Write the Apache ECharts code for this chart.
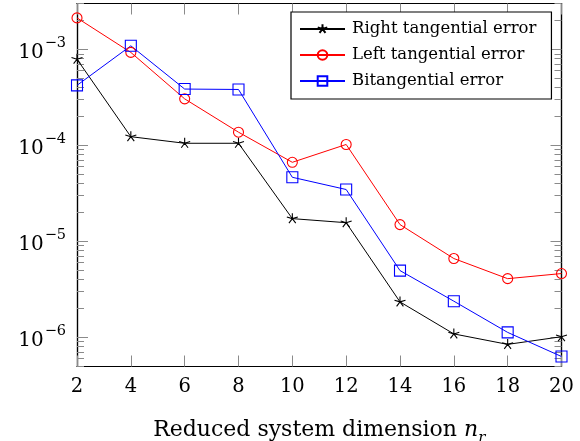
<!DOCTYPE html>
<html>
<head>
<meta charset="utf-8">
<script src="https://cdn.jsdelivr.net/npm/echarts@6/dist/echarts.min.js"></script>
<style>
  html, body { margin: 0; padding: 0; background: #fff; }
  #chart { width: 580px; height: 441px; }
</style>
</head>
<body>
<div id="chart"></div>
<script>
const xValues = [2, 4, 6, 8, 10, 12, 14, 16, 18, 20];
const rightTangential = [7.9e-4, 1.23e-4, 1.05e-4, 1.05e-4, 1.72e-5, 1.56e-5, 2.33e-6, 1.08e-6, 8.4e-7, 1.01e-6];
const leftTangential = [2.13e-3, 9.3e-4, 3.05e-4, 1.37e-4, 6.65e-5, 1.02e-4, 1.49e-5, 6.6e-6, 4.07e-6, 4.6e-6];
const bitangential = [4.22e-4, 1.09e-3, 3.86e-4, 3.82e-4, 4.64e-5, 3.46e-5, 4.94e-6, 2.37e-6, 1.12e-6, 6.28e-7];
const seriesNames = ['Right tangential error', 'Left tangential error', 'Bitangential error'];
const yMin = 4.94e-7;
const yMax = 3.01e-3;
const majorTicks = [1e-6, 1e-5, 1e-4, 1e-3];
const minorTicks = [];
[-7, -6, -5, -4, -3].forEach(e => {
  for (let k = 2; k <= 9; k++) {
    const v = Number((k * Math.pow(10, e)).toPrecision(3));
    if (v > yMin && v < yMax) minorTicks.push(v);
  }
});

const FONT = 'DejaVu Serif';
const pair = arr => xValues.map((x, i) => [x, arr[i]]);
const starPath = 'path://M0,0L0,-1M0,0L0.951,-0.309M0,0L0.588,0.809M0,0L-0.588,0.809M0,0L-0.951,-0.309M0,1';

const tickColor = '#8a8a8a';
const frame = { show: true, lineStyle: { color: '#000', width: 1.2 } };

function logAxis(pos, withLabels, ticks, len) {
  return {
    type: 'log', logBase: 10, min: yMin, max: yMax, position: pos,
    axisLine: frame,
    splitLine: { show: false },
    axisTick: { show: true, inside: true, length: len, customValues: ticks, lineStyle: { color: tickColor, width: 1 } },
    axisLabel: withLabels ? {
      show: true, customValues: majorTicks, margin: 11,
      formatter: v => '{b|10}{e|\u2212' + Math.round(-Math.log10(v)) + '}',
      rich: {
        b: { fontFamily: FONT, fontSize: 20, color: '#000', verticalAlign: 'bottom', padding: [7, 0, 0, 0] },
        e: { fontFamily: FONT, fontSize: 14.5, color: '#000', verticalAlign: 'top', padding: [0, 0, 0, 1] }
      }
    } : { show: false }
  };
}

const chart = echarts.init(document.getElementById('chart'), null, { renderer: 'canvas' });
chart.setOption({
  animation: false,
  backgroundColor: '#fff',
  grid: { left: 77, right: 18.5, top: 3.5, bottom: 74.5, containLabel: false, outerBoundsMode: 'none' },
  legend: {
    orient: 'vertical', left: 291, top: 12,
    padding: [7, 15, 8, 8],
    itemGap: 6, itemWidth: 45, itemHeight: 12,
    backgroundColor: '#fff', borderColor: '#000', borderWidth: 1.2, borderRadius: 0,
    textStyle: { fontFamily: FONT, fontSize: 16.5, lineHeight: 20, color: '#000', padding: [0, 0, 0, 2] },
    data: seriesNames
  },
  xAxis: [
    {
      type: 'value', min: 2, max: 20, interval: 2, position: 'bottom',
      axisLine: frame, splitLine: { show: false },
      axisTick: { show: true, inside: true, length: 11, lineStyle: { color: tickColor } },
      axisLabel: { fontFamily: FONT, fontSize: 19.5, color: '#000', margin: 10 },
      name: 'Reduced system dimension {i|n}{s|r}',
      nameLocation: 'middle', nameGap: 53,
      nameTextStyle: {
        fontFamily: FONT, fontSize: 22, color: '#000',
        rich: {
          i: { fontFamily: FONT, fontSize: 22, fontStyle: 'italic', color: '#000', verticalAlign: 'bottom' },
          s: { fontFamily: FONT, fontSize: 15, fontStyle: 'italic', color: '#000', verticalAlign: 'bottom', padding: [0, 0, -4, 0] }
        }
      }
    },
    {
      type: 'value', min: 2, max: 20, interval: 2, position: 'top',
      axisLine: frame, splitLine: { show: false },
      axisTick: { show: true, inside: true, length: 11, lineStyle: { color: tickColor } },
      axisLabel: { show: false }
    }
  ],
  yAxis: [
    logAxis('left', true, majorTicks, 11),
    logAxis('left', false, minorTicks, 7),
    logAxis('right', false, majorTicks, 11),
    logAxis('right', false, minorTicks, 7)
  ],
  series: [
    {
      name: seriesNames[0], type: 'line', data: pair(rightTangential), clip: false,
      symbol: starPath, symbolSize: 11,
      lineStyle: { color: '#000', width: 1 },
      itemStyle: { color: '#000', borderColor: '#000', borderWidth: 1.1 }
    },
    {
      name: seriesNames[1], type: 'line', data: pair(leftTangential), clip: false,
      symbol: 'circle', symbolSize: 10,
      lineStyle: { color: '#ff0000', width: 1 },
      itemStyle: { color: 'rgba(255,255,255,0)', borderColor: '#ff0000', borderWidth: 1.1 }
    },
    {
      name: seriesNames[2], type: 'line', data: pair(bitangential), clip: false,
      symbol: 'rect', symbolSize: 11,
      lineStyle: { color: '#0000ff', width: 1 },
      itemStyle: { color: 'rgba(255,255,255,0)', borderColor: '#0000ff', borderWidth: 1.1 }
    }
  ]
});
</script>
</body>
</html>
